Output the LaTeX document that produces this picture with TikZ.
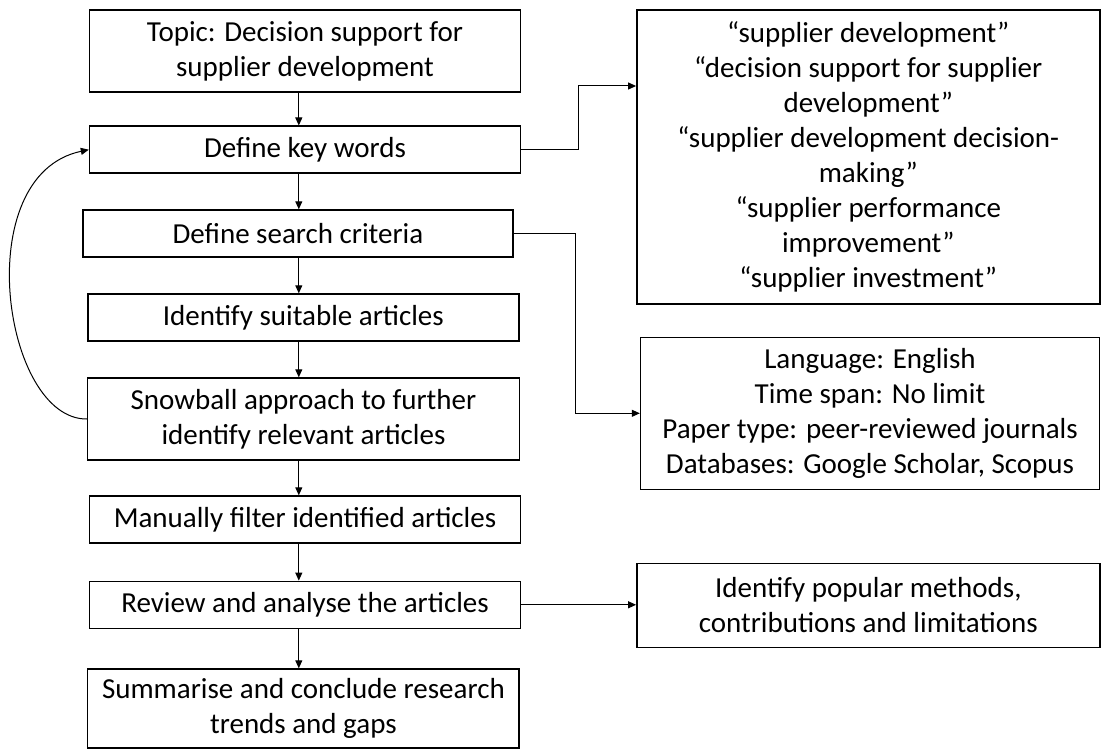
\documentclass[tikz,border=0pt]{standalone}
\usepackage{fontspec}
\setmainfont{Carlito}
\usetikzlibrary{arrows.meta,calc}
\begin{document}
\begin{tikzpicture}[x=1pt,y=-1pt,
  box/.style={draw=black,line width=1.4pt,rectangle,inner sep=0pt,align=center,
    font=\fontsize{29}{35}\selectfont},
  arr/.style={draw=black,line width=1pt,-{Triangle[length=8pt,width=7pt]}}]
\useasboundingbox (0,0) rectangle (1101,749);
% main column
\node[box,minimum width=431,minimum height=82] (topic) at (305,51)
  {Topic: Decision support for\\supplier development};
\node[box,minimum width=431,minimum height=47] (kw) at (305,149.7) {Define key words};
\node[box,minimum width=430,minimum height=47] (crit) at (297.9,233.5) {Define search criteria};
\node[box,minimum width=431,minimum height=47] (ident) at (303.3,317.5) {Identify suitable articles};
\node[box,minimum width=431.5,minimum height=82] (snow) at (303.5,419)
  {Snowball approach to further\\identify relevant articles};
\node[box,minimum width=431,minimum height=47] (manual) at (305,519.5) {Manually filter identified articles};
\node[box,minimum width=431,minimum height=47] (review) at (305,604.8) {Review and analyse the articles};
\node[box,minimum width=431.3,minimum height=79] (summ) at (303.4,708.5)
  {Summarise and conclude research\\trends and gaps};
% side boxes
\node[box,minimum width=463,minimum height=294] (keys) at (868.3,157)
  {“supplier development”\\“decision support for supplier\\development”\\“supplier development decision-\\making”\\“supplier performance\\improvement”\\“supplier investment”};
\node[box,minimum width=459,minimum height=152] (cbox) at (870,413.3)
  {Language: English\\Time span: No limit\\Paper type: peer-reviewed journals\\Databases: Google Scholar, Scopus};
\node[box,minimum width=463,minimum height=84] (pop) at (868.3,605.3)
  {Identify popular methods,\\contributions and limitations};
% vertical flow
\coordinate (ax) at (298.8,0);
\draw[arr] (topic.south -| ax) -- (kw.north -| ax);
\draw[arr] (kw.south -| ax) -- (crit.north -| ax);
\draw[arr] (crit.south -| ax) -- (ident.north -| ax);
\draw[arr] (ident.south -| ax) -- (snow.north -| ax);
\draw[arr] (snow.south -| ax) -- (manual.north -| ax);
\draw[arr] (manual.south -| ax) -- (review.north -| ax);
\draw[arr] (review.south -| ax) -- (summ.north -| ax);
% side connectors
\coordinate (kbend) at (578.6,86);
\draw[arr] (kw.east) -| (kbend) -- (kbend -| keys.west);
\coordinate (cbend) at (575.9,413.3);
\draw[arr] (crit.east) -| (cbend) -- (cbend -| cbox.west);
\draw[arr] (review.east) -- (pop.west |- review.east);
% feedback loop
\draw[arr] (snow.west) .. controls (3,420) and (-32,175) .. (kw.west);
\end{tikzpicture}
\end{document}
